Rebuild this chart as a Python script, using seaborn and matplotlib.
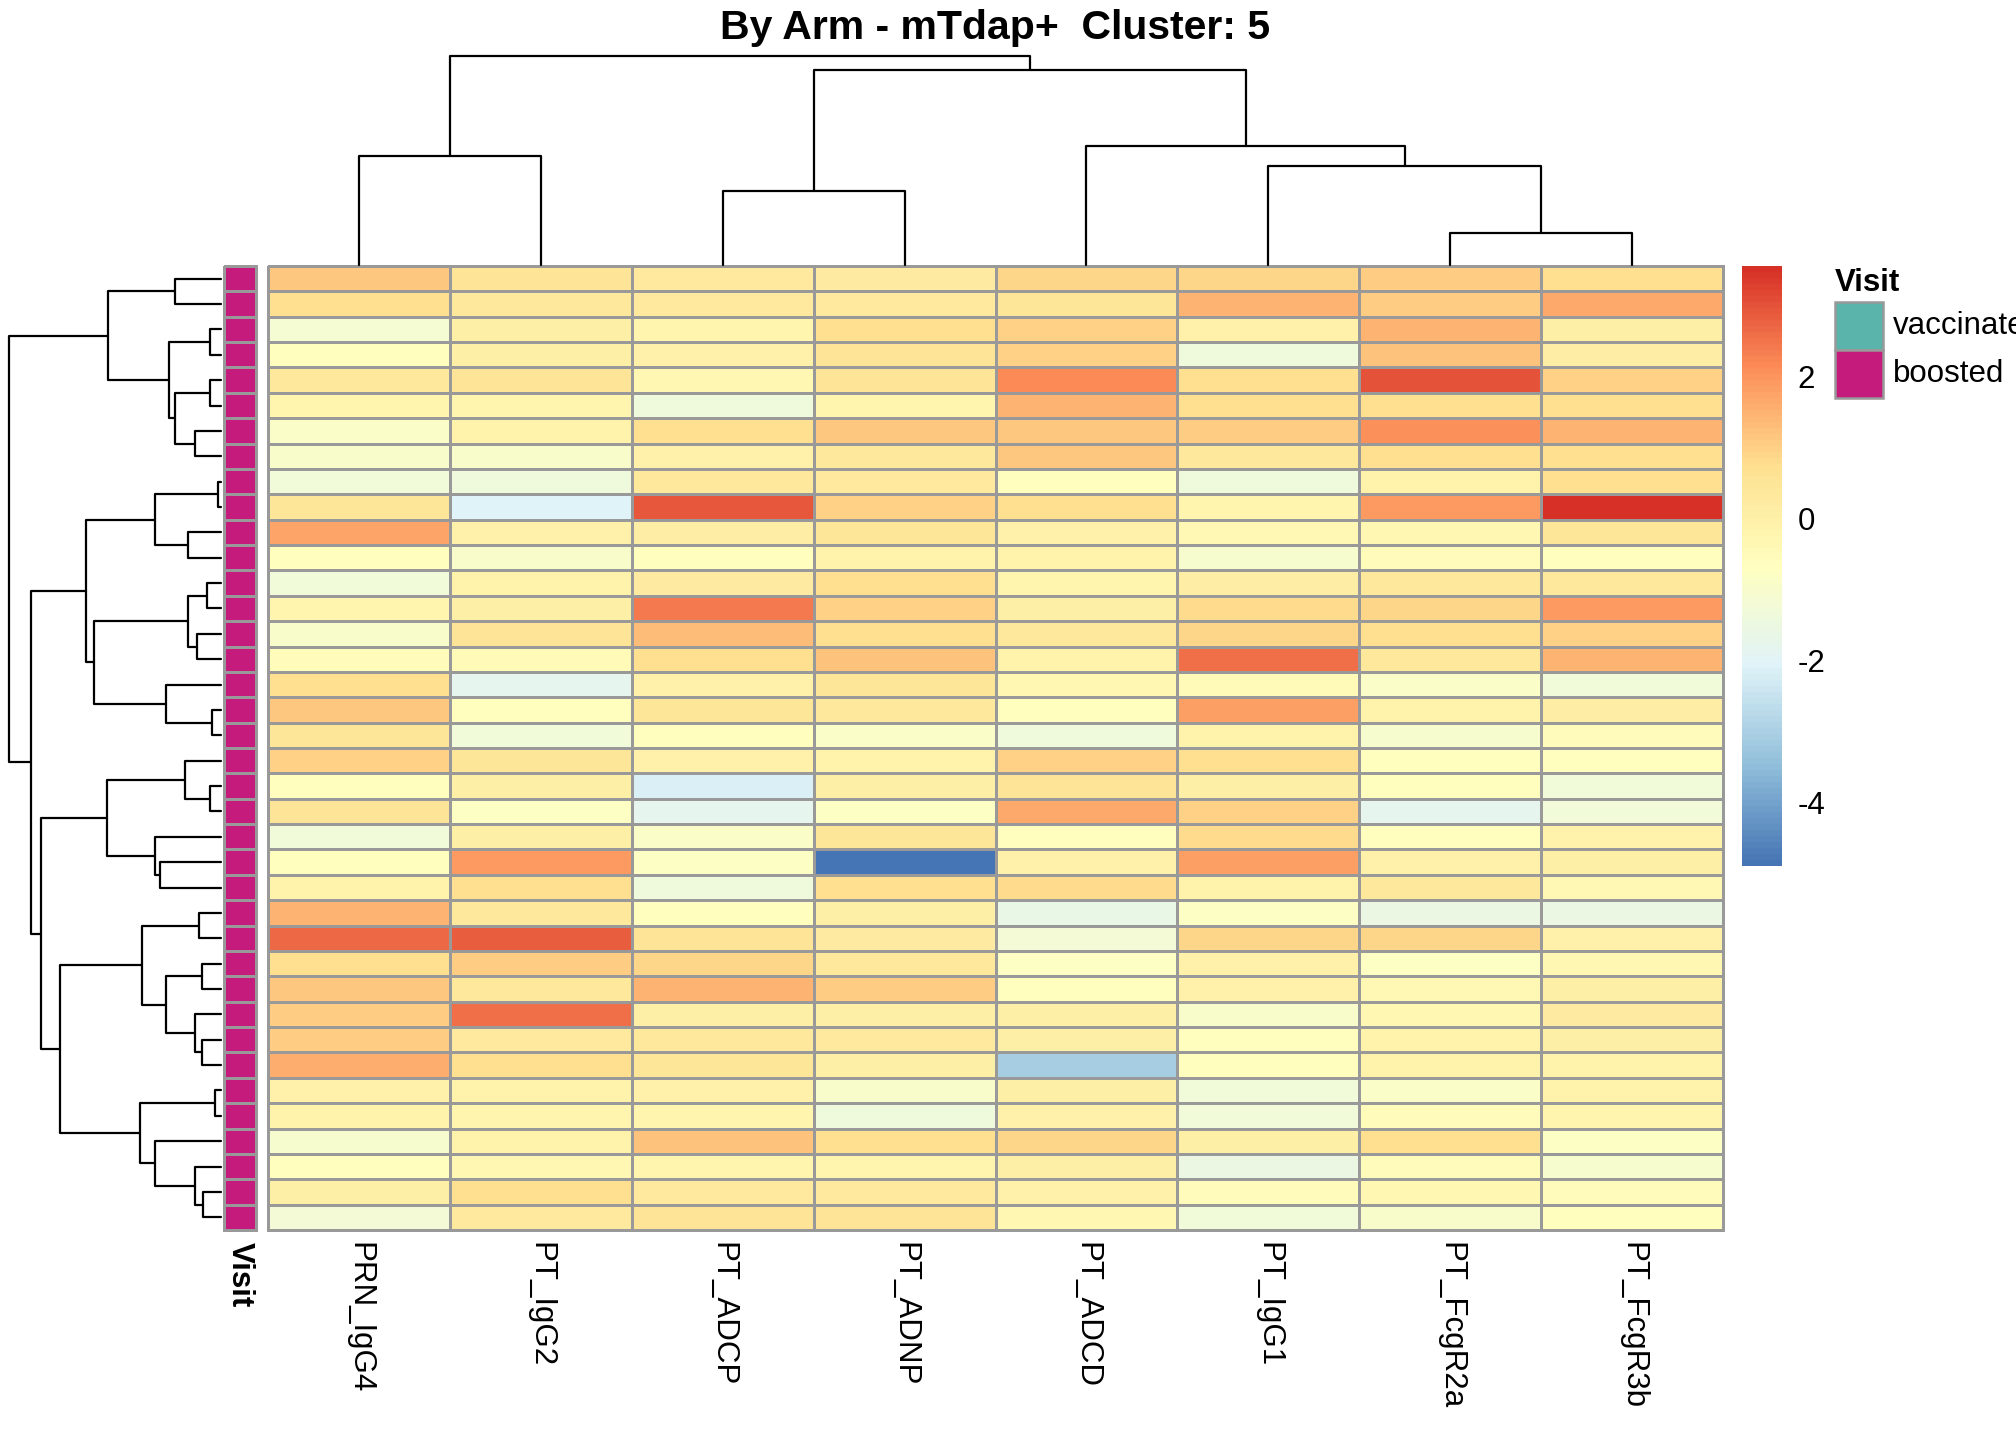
import numpy as np
import pandas as pd
import matplotlib
matplotlib.use("Agg")
import matplotlib.pyplot as plt
from matplotlib.colors import LinearSegmentedColormap, ListedColormap
from matplotlib.patches import Rectangle
import seaborn as sns

# ---------------- data ----------------
title = "By Arm - mTdap+  Cluster: 5"
features = ["PRN_IgG4", "PT_IgG2", "PT_ADCP", "PT_ADNP",
            "PT_ADCD", "PT_IgG1", "PT_FcgR2a", "PT_FcgR3b"]

PRN_IgG4 = [1.14, 0.75, -1.1, -0.65, 0.37, -0.18, -0.85, -0.95, -1.27, 0.5,
            1.75, -0.65, -1.27, -0.22, -0.95, -0.55, 0.69, 1.14, 0.5, 1.0,
            -0.65, 0.6, -1.27, -0.65, -0.1, 1.5, 2.65, 0.69, 1.14, 1.06,
            1.06, 1.57, 0.0, -0.1, -1.05, -0.65, 0.08, -1.22]
PT_IgG2 = [0.6, 0.41, 0.08, 0.08, 0.6, -0.18, -0.1, -0.95, -1.41, -2.05,
           0.0, -0.95, -0.13, 0.08, 0.6, -0.45, -1.8, -0.6, -1.27, 0.5,
           0.08, -0.75, 0.08, 1.89, 0.69, 0.37, 2.88, 1.06, 0.37, 2.58,
           0.28, 0.69, -0.13, -0.18, -0.1, -0.28, 0.69, 0.28]
PT_ADCP = [0.32, 0.32, -0.18, 0.0, -0.28, -1.37, 0.69, 0.0, 0.37, 2.9,
           0.14, -0.65, 0.23, 2.41, 1.34, 0.69, 0.0, 0.45, -0.65, 0.0,
           -2.15, -1.8, -0.9, -0.75, -1.41, -0.65, 0.6, 0.86, 1.46, 0.08,
           0.37, 0.5, 0.0, -0.18, 1.21, -0.18, 0.28, 0.6]
PT_ADNP = [0.18, 0.32, 0.75, 0.6, 0.6, -0.22, 1.14, 0.37, 0.28, 1.0,
           0.45, -0.1, 0.69, 1.0, 0.69, 1.21, 0.45, 0.37, -0.85, -0.1,
           0.08, -0.75, 0.45, -4.89, 0.69, 0.08, 0.18, 0.37, 1.06, 0.08,
           0.28, 0.08, -1.0, -1.37, 0.69, -0.18, 0.28, 0.6]
PT_ADCD = [0.92, 0.5, 1.0, 1.0, 2.14, 1.46, 1.14, 1.14, -0.6, 0.69,
           0.0, -0.13, -0.18, 0.08, 0.37, -0.13, -0.28, -0.65, -1.41, 1.0,
           0.6, 1.65, -0.65, 0.0, 0.8, -1.6, -1.22, -0.8, -0.65, 0.08,
           0.08, -3.1, 0.08, 0.0, 0.9, 0.08, 0.0, -0.28]
PT_IgG1 = [0.9, 1.5, 0.0, -1.41, 0.69, 0.69, 1.06, 0.37, -1.41, -0.18,
           -0.35, -1.05, 0.14, 0.8, 0.9, 2.61, -0.45, 1.86, -0.1, 0.69,
           0.08, 1.0, 0.8, 1.86, -0.1, -0.8, 0.9, 0.0, 0.0, -0.95,
           -0.65, -0.65, -1.27, -1.27, 0.08, -1.54, -0.55, -1.27]
PT_FcgR2a = [1.06, 1.06, 1.46, 1.21, 2.97, 0.69, 2.1, 0.69, -0.1, 1.92,
             -0.28, -0.55, 0.37, 0.9, 0.75, 0.41, -0.85, -0.1, -1.05, -0.65,
             -0.65, -1.8, -0.65, 0.0, 0.37, -1.54, 0.9, -0.8, -0.35, -0.28,
             -0.1, -0.13, -0.85, -0.55, 0.69, -0.55, -0.28, -0.95]
PT_FcgR3b = [0.75, 1.65, 0.08, 0.14, 1.0, 0.69, 1.5, 0.75, 0.69, 3.56,
             0.45, -0.65, 0.37, 1.92, 1.0, 1.5, -1.3, 0.14, -0.55, -0.65,
             -1.3, -1.3, -0.13, 0.08, -0.35, -1.54, 0.0, -0.28, 0.08, 0.23,
             0.08, -0.13, -0.1, -0.18, -0.8, -1.05, -0.55, -0.65]

visit = ["boosted"] * 38
visit_levels = ["vaccinated", "boosted"]
visit_colors = ["#5AB4AC", "#C51B7D"]

# dendrogram structure: (left, right, merge height); leaves are row/column indices
col_tree = ((0, 1, 109), ((2, 3, 74), (4, (5, (6, 7, 32), 99), 119), 195), 209)
row_tree = (
    ((0, 1, 42), ((2, 3, 10), ((4, 5, 10), (6, 7, 24), 42), 47), 102),
    (
        (((8, 9, 3), (10, 11, 30), 60),
         (((12, 13, 13), (14, 15, 22), 30), (16, (17, 18, 8), 50), 115), 122),
        (
            ((19, (20, 21, 10), 33), (22, (23, 24, 55), 60), 103),
            (((25, 26, 20), ((27, 28, 17), (29, (30, 31, 17), 24), 50), 72),
             ((32, 33, 5), (34, (35, (36, 37, 16), 24), 60), 73), 146),
            163),
        172),
    192)

# ---------------- build ----------------
df = pd.DataFrame({"PRN_IgG4": PRN_IgG4, "PT_IgG2": PT_IgG2, "PT_ADCP": PT_ADCP,
                   "PT_ADNP": PT_ADNP, "PT_ADCD": PT_ADCD, "PT_IgG1": PT_IgG1,
                   "PT_FcgR2a": PT_FcgR2a, "PT_FcgR3b": PT_FcgR3b})[features]
vmin, vmax = df.values.min(), df.values.max()
nrow, ncol = df.shape

sns.set_theme(style="white")
plt.rcParams["font.family"] = ["Liberation Sans", "DejaVu Sans"]
plt.rcParams["axes.unicode_minus"] = False
for key in ["text.color", "xtick.color", "ytick.color", "axes.labelcolor",
            "xtick.labelcolor", "ytick.labelcolor"]:
    plt.rcParams[key] = "black"

W, H = 2016, 1440
fig = plt.figure(figsize=(W / 100, H / 100), dpi=100)


def px_axes(x0, y0, x1, y1):
    return fig.add_axes([x0 / W, 1 - y1 / H, (x1 - x0) / W, (y1 - y0) / H])


HX0, HX1, HY0, HY1 = 268, 1723, 266, 1230
FS = 22.5
GRID = "#999999"
LW = 1.8

pal = ["#4575B4", "#91BFDB", "#E0F3F8", "#FFFFBF", "#FEE090", "#FC8D59", "#D73027"]
cmap = LinearSegmentedColormap.from_list("pheat", pal, N=100)

ax = px_axes(HX0, HY0, HX1, HY1)
cax = px_axes(1742, 266, 1782, 866)
sns.heatmap(df, ax=ax, cmap=cmap, vmin=vmin, vmax=vmax, linewidths=LW,
            linecolor=GRID, cbar_ax=cax, cbar_kws={"ticks": [-4, -2, 0, 2]},
            xticklabels=features, yticklabels=False)
ax.collections[0].set_clip_on(False)
ax.set_xlabel("")
ax.set_ylabel("")
ax.tick_params(axis="x", length=0, pad=9, labelsize=FS, rotation=270, labelcolor="black")
for t in ax.get_xticklabels():
    t.set_ha("center")
    t.set_va("top")
    t.set_color("black")

cbar = ax.collections[0].colorbar
cbar.outline.set_visible(False)
cax.tick_params(length=0, labelsize=FS, pad=11, labelcolor="black")

# annotation column
aax = px_axes(224, HY0, 256, HY1)
codes = pd.DataFrame({"Visit": [visit_levels.index(v) for v in visit]})
sns.heatmap(codes, ax=aax, cmap=ListedColormap(visit_colors), vmin=-0.5,
            vmax=len(visit_levels) - 0.5, linewidths=LW, linecolor=GRID,
            cbar=False, xticklabels=["Visit"], yticklabels=False)
aax.collections[0].set_clip_on(False)
aax.set_ylabel("")
aax.tick_params(axis="x", length=0, pad=9, labelsize=FS, rotation=270)
for t in aax.get_xticklabels():
    t.set_ha("center")
    t.set_va("top")
    t.set_fontweight("bold")
    t.set_color("black")


# dendrograms
def draw_tree(axd, node, orient):
    if isinstance(node, int):
        return node + 0.5, 0.0
    left, right, h = node
    pl, hl = draw_tree(axd, left, orient)
    pr, hr = draw_tree(axd, right, orient)
    pos = [pl, pl, pr, pr]
    hts = [hl, h, h, hr]
    if orient == "top":
        axd.plot(pos, hts, color="black", lw=1.6, clip_on=False)
    else:
        axd.plot(hts, pos, color="black", lw=1.6, clip_on=False)
    return (pl + pr) / 2, h


tax = px_axes(HX0, 56, HX1, 265)
draw_tree(tax, col_tree, "top")
tax.set_xlim(0, ncol)
tax.set_ylim(0, col_tree[2])
tax.axis("off")

lax = px_axes(9, HY0, 221, HY1)
draw_tree(lax, row_tree, "left")
lax.set_xlim(row_tree[2], 0)
lax.set_ylim(nrow, 0)
lax.axis("off")

# title
fig.text(995 / W, 1 - 39 / H, title, ha="center", va="baseline",
         fontsize=29.5, fontweight="bold", color="black")

# Visit legend
gax = fig.add_axes([0, 0, 1, 1])
gax.set_xlim(0, W)
gax.set_ylim(H, 0)
gax.axis("off")
gax.text(1835, 291, "Visit", fontsize=FS, fontweight="bold", ha="left",
         va="baseline", color="black")
for i, (lev, colr) in enumerate(zip(visit_levels, visit_colors)):
    y0 = 302 + i * 48
    gax.add_patch(Rectangle((1835, y0), 48, 48, facecolor=colr, edgecolor=GRID, lw=LW))
    gax.text(1893, y0 + 24, lev, fontsize=FS, ha="left", va="center", color="black")

fig.savefig("out.png", dpi=100)
